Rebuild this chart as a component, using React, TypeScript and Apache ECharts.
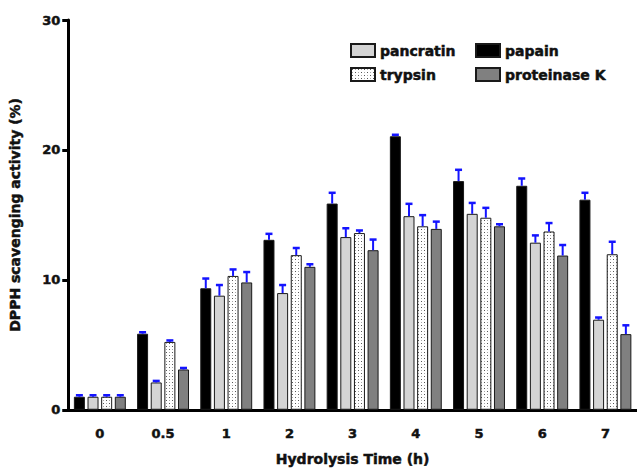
import React, { useEffect, useRef } from "react";
import * as echarts from "echarts";

const categories = ["0", "0.5", "1", "2", "3", "4", "5", "6", "7"];
const seriesNames = ["papain", "pancratin", "trypsin", "proteinase K"];
const papain = [1.0, 5.85, 9.35, 13.08, 15.87, 21.05, 17.6, 17.24, 16.17];
const papainErr = [0.05, 0.05, 0.75, 0.46, 0.83, 0.05, 0.87, 0.56, 0.53];
const pancratin = [1.0, 2.1, 8.78, 8.98, 13.29, 14.9, 15.08, 12.86, 6.93];
const pancratinErr = [0.05, 0.12, 0.82, 0.62, 0.68, 0.95, 0.84, 0.56, 0.17];
const trypsin = [1.0, 5.22, 10.3, 11.9, 13.6, 14.12, 14.78, 13.72, 11.97];
const trypsinErr = [0.05, 0.1, 0.5, 0.55, 0.2, 0.86, 0.76, 0.65, 0.96];
const proteinaseK = [1.0, 3.1, 9.8, 11.0, 12.28, 13.92, 14.12, 11.87, 5.82];
const proteinaseKErr = [0.05, 0.1, 0.8, 0.2, 0.82, 0.56, 0.16, 0.81, 0.68];
const yTicks = { min: 0, max: 30, interval: 10 };

const FONT = "DejaVu Sans";
const BAR_W = 11;
const BAR_GAP = 0.24;

function makePattern(): string {
  const c = document.createElement("canvas");
  c.width = 6;
  c.height = 6;
  const ctx = c.getContext("2d")!;
  ctx.fillStyle = "#ffffff";
  ctx.fillRect(0, 0, 6, 6);
  ctx.fillStyle = "#555555";
  ctx.fillRect(1, 1, 1, 1);
  ctx.fillRect(4, 4, 1, 1);
  ctx.fillStyle = "#aaaaaa";
  ctx.fillRect(4, 1, 1, 1);
  ctx.fillRect(1, 4, 1, 1);
  return c.toDataURL();
}

const heavy = { textBorderColor: "#111", textBorderWidth: 0.5 };

export default function App() {
  const ref = useRef<HTMLDivElement>(null);
  useEffect(() => {
    if (!ref.current) return;
    const chart = echarts.init(ref.current, null, { renderer: "svg" });
    const pattern = { image: makePattern(), repeat: "repeat" } as any;
    const values = [papain, pancratin, trypsin, proteinaseK];
    const errs = [papainErr, pancratinErr, trypsinErr, proteinaseKErr];
    const colors: any[] = ["#000000", "#d4d4d4", pattern, "#808080"];
    const pitch = BAR_W * (1 + BAR_GAP);

    const barSeries = seriesNames.map((name, i) => ({
      name,
      type: "bar",
      data: values[i],
      barWidth: BAR_W,
      barGap: `${BAR_GAP * 100}%`,
      itemStyle: {
        color: colors[i],
        borderColor: "#1a1a1a",
        borderWidth: 1,
      },
      z: 2,
    }));

    const errSeries = seriesNames.map((name, i) => ({
      name: name + "-err",
      type: "custom",
      z: 5,
      data: values[i].map((v, k) => [k, v, errs[i][k]]),
      renderItem: (params: any, api: any) => {
        const cat = api.value(0);
        const v = api.value(1);
        const e = api.value(2);
        const base = api.coord([cat, v]);
        const top = api.coord([cat, v + e]);
        const x = base[0] + (i - 1.5) * pitch;
        const yTop = Math.min(top[1], base[1] - 1.5);
        return {
          type: "group",
          children: [
            {
              type: "line",
              shape: { x1: x, y1: base[1], x2: x, y2: yTop },
              style: { stroke: "#1414ff", lineWidth: 2 },
            },
            {
              type: "line",
              shape: { x1: x - 3.5, y1: yTop, x2: x + 3.5, y2: yTop },
              style: { stroke: "#1414ff", lineWidth: 2.5 },
            },
          ],
        };
      },
    }));

    const legendCommon = {
      orient: "vertical",
      top: 38,
      itemWidth: 24,
      itemHeight: 13,
      itemGap: 9,
      icon: "rect",
      textStyle: {
        fontFamily: FONT,
        fontWeight: "bold",
        fontSize: 14,
        color: "#111",
        ...heavy,
      },
    };

    chart.setOption({
      animation: false,
      backgroundColor: "#ffffff",
      grid: { left: 67, right: 0, top: 20, bottom: 55, containLabel: false },
      legend: [
        { ...legendCommon, left: 345, data: ["pancratin", "trypsin"] },
        { ...legendCommon, left: 470, data: ["papain", "proteinase K"] },
      ],
      xAxis: {
        type: "category",
        data: categories,
        name: "Hydrolysis Time (h)",
        nameLocation: "middle",
        nameGap: 42,
        nameTextStyle: { fontFamily: FONT, fontWeight: "bold", fontSize: 14, color: "#111", ...heavy },
        axisLine: { lineStyle: { color: "#000", width: 3 } },
        axisTick: { alignWithLabel: true, length: 6, lineStyle: { width: 3, color: "#000" } },
        axisLabel: { fontFamily: FONT, fontWeight: "bold", fontSize: 13, color: "#111", margin: 17, ...heavy },
        splitLine: { show: false },
      },
      yAxis: {
        type: "value",
        min: yTicks.min,
        max: yTicks.max,
        interval: yTicks.interval,
        name: "DPPH scavenging activity (%)",
        nameLocation: "middle",
        nameGap: 46,
        nameTextStyle: { fontFamily: FONT, fontWeight: "bold", fontSize: 14, color: "#111", ...heavy },
        axisLine: { show: true, lineStyle: { color: "#000", width: 3 } },
        axisTick: { show: true, length: 6, lineStyle: { width: 3, color: "#000" } },
        axisLabel: { fontFamily: FONT, fontWeight: "bold", fontSize: 13, color: "#111", margin: 8, ...heavy },
        splitLine: { show: false },
      },
      series: [...barSeries, ...errSeries],
    } as any);
    return () => chart.dispose();
  }, []);
  return <div ref={ref} style={{ width: 637, height: 471, position: "absolute", left: 0, top: 0 }} />;
}
